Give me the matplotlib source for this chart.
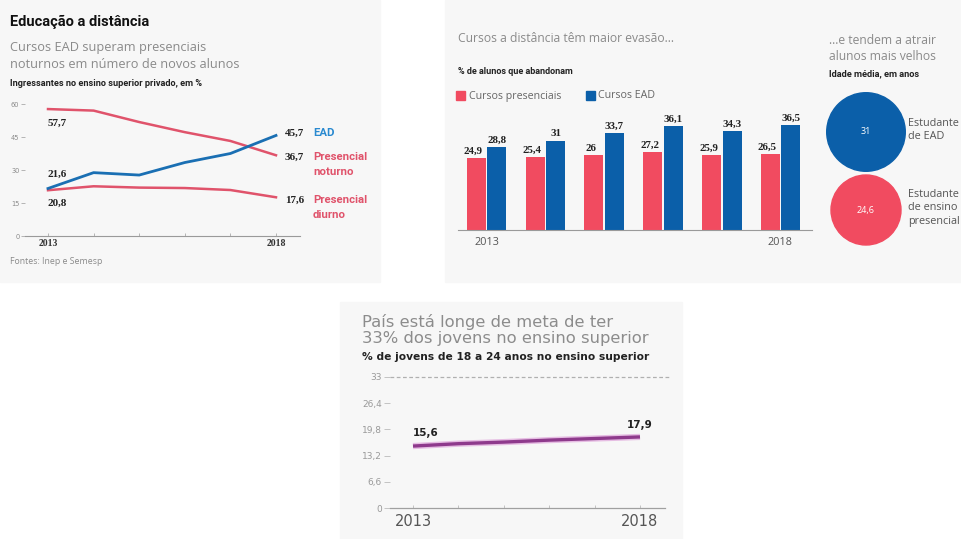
import matplotlib
matplotlib.use("Agg")
import matplotlib.pyplot as plt
from matplotlib.patches import Rectangle, Circle

W, H = 962, 539

# Ingressantes no ensino superior privado (%)
years = [2013, 2014, 2015, 2016, 2017, 2018]
ead_ingressantes = [21.6, 28.8, 27.7, 33.4, 37.5, 45.7]
noturno_ingressantes = [57.7, 57.0, 51.8, 47.2, 43.2, 36.7]
diurno_ingressantes = [20.8, 22.6, 22.0, 21.8, 20.9, 17.6]

# Evasão (% de alunos que abandonam)
evasao_presencial = [24.9, 25.4, 26.0, 27.2, 25.9, 26.5]
evasao_ead = [28.8, 31.0, 33.7, 36.1, 34.3, 36.5]

# Idade média (anos)
idade_labels = ["Estudante\nde EAD", "Estudante\nde ensino\npresencial"]
idade_values = [31, 24.6]

# Jovens de 18 a 24 anos no ensino superior (%)
jovens_pct = [15.6, 16.2, 16.6, 17.1, 17.5, 17.9]
meta_pct = 33

RED = "#e0536b"
RED2 = "#f14b60"
BLUE = "#1a6fb3"
BLUE2 = "#0b5fa9"
PURPLE = "#8e3a8c"
GRAY = "#8a8a8a"
DARK = "#222222"
PANEL = "#f7f7f7"

fig = plt.figure(figsize=(W / 100, H / 100), dpi=100, facecolor="white")


def rect(x0, y0, x1, y1):
    """pixel box (top-left origin) -> figure fraction rect"""
    return [x0 / W, 1 - y1 / H, (x1 - x0) / W, (y1 - y0) / H]


def txt(x, y, s, **kw):
    kw.setdefault("va", "center")
    kw.setdefault("ha", "left")
    return fig.text(x / W, 1 - y / H, s, **kw)


def box(x0, y0, x1, y1, color, z):
    fig.patches.append(Rectangle((x0 / W, 1 - y1 / H), (x1 - x0) / W, (y1 - y0) / H,
                                 transform=fig.transFigure, color=color, zorder=z))


def fmt(v):
    return f"{v:g}".replace(".", ",")


# panel backgrounds
for b in [(0, 0, 380, 282), (445, 0, 962, 282), (340, 302, 682, 539)]:
    box(*b, PANEL, -5)

num_font = dict(family="Liberation Serif", fontweight="bold", color=DARK)

# ---------- panel 1: ingressantes ----------
txt(10, 22, "Educação a distância", fontsize=10.5, fontweight="bold", family="Roboto", color="#111")
txt(10, 48, "Cursos EAD superam presenciais", fontsize=9.2, family="Open Sans", color=GRAY)
txt(10, 64, "noturnos em número de novos alunos", fontsize=9.2, family="Open Sans", color=GRAY)
txt(10, 83, "Ingressantes no ensino superior privado, em %", fontsize=6.6,
    fontweight="bold", family="Roboto", color=DARK)

ax1 = fig.add_axes(rect(25, 100, 300, 236))
ax1.set_xlim(2013 - 23 / 45.6, 2018 + 24 / 45.6)
ax1.set_ylim(0, 136 / 2.2)
ax1.set_facecolor("none")
ax1.plot(years, noturno_ingressantes, color=RED, lw=1.8, clip_on=False)
ax1.plot(years, diurno_ingressantes, color=RED, lw=1.8, clip_on=False)
ax1.plot(years, ead_ingressantes, color=BLUE, lw=2.0, clip_on=False)
for s in ["top", "right", "left"]:
    ax1.spines[s].set_visible(False)
ax1.spines["bottom"].set_color("#9a9a9a")
ax1.spines["bottom"].set_linewidth(0.8)
ax1.set_yticks([0, 15, 30, 45, 60])
ax1.set_yticklabels(["0", "15", "30", "45", "60"], fontsize=4.8, color=GRAY)
ax1.tick_params(axis="y", length=3, width=0.6, color="#aaaaaa", pad=1)
ax1.set_xticks(years)
ax1.set_xticklabels(["2013", "", "", "", "", "2018"], fontsize=7,
                    family="Liberation Serif", fontweight="bold", color="#333")
ax1.tick_params(axis="x", direction="in", length=2, width=0.6, color="#aaaaaa", pad=2)

ax1.text(2013, noturno_ingressantes[0] - 6.5, fmt(noturno_ingressantes[0]), fontsize=8,
         ha="left", va="center", **num_font)
ax1.text(2013, ead_ingressantes[0] + 6.5, fmt(ead_ingressantes[0]), fontsize=8,
         ha="left", va="center", **num_font)
ax1.text(2013, diurno_ingressantes[0] - 6.0, fmt(diurno_ingressantes[0]), fontsize=8,
         ha="left", va="center", **num_font)

lab_font = dict(fontsize=8.2, fontweight="bold", family="Roboto")
txt(285, 133, fmt(ead_ingressantes[-1]), fontsize=8, **num_font)
txt(313, 133, "EAD", color="#2a8ad0", **lab_font)
txt(285, 157, fmt(noturno_ingressantes[-1]), fontsize=8, **num_font)
txt(313, 157, "Presencial", color=RED, **lab_font)
txt(313, 172, "noturno", color=RED, **lab_font)
txt(285, 200, fmt(diurno_ingressantes[-1]), fontsize=8, **num_font)
txt(313, 200, "Presencial", color=RED, **lab_font)
txt(313, 215, "diurno", color=RED, **lab_font)
txt(10, 261, "Fontes: Inep e Semesp", fontsize=6.3, family="Open Sans", color=GRAY)

# ---------- panel 2: evasão ----------
txt(458, 38, "Cursos a distância têm maior evasão...", fontsize=8.7, family="Open Sans", color=GRAY)
txt(458, 72, "% de alunos que abandonam", fontsize=6.5, fontweight="bold", family="Roboto", color=DARK)
box(456, 91, 465, 100, RED2, 1)
txt(469, 96, "Cursos presenciais", fontsize=7.7, family="Open Sans", color="#666")
box(586, 91, 595, 100, BLUE2, 1)
txt(598, 96, "Cursos EAD", fontsize=7.7, family="Open Sans", color="#666")

ax2 = fig.add_axes(rect(458, 100, 812, 230))
gx = list(range(len(evasao_ead)))
bw = 19 / 58.8
off = 10.3 / 58.8
ax2.bar([g - off for g in gx], evasao_presencial, width=bw, color=RED2)
ax2.bar([g + off for g in gx], evasao_ead, width=bw, color=BLUE2)
ax2.set_xlim(-28.5 / 58.8, 325.5 / 58.8)
ax2.set_ylim(0, 130 / 2.88)
ax2.set_facecolor("none")
for s in ["top", "right", "left"]:
    ax2.spines[s].set_visible(False)
ax2.spines["bottom"].set_color("#9a9a9a")
ax2.spines["bottom"].set_linewidth(0.8)
ax2.set_yticks([])
ax2.set_xticks([0, 5])
ax2.set_xticklabels(["2013", "2018"], fontsize=7.8, family="Open Sans", color="#555")
ax2.tick_params(axis="x", length=0, pad=5)

for g, a, b in zip(gx, evasao_presencial, evasao_ead):
    ax2.text(g - off - 0.05, a + 0.8, fmt(a), fontsize=7.8, ha="center", va="bottom", **num_font)
    ax2.text(g + off, b + 0.8, fmt(b), fontsize=7.8, ha="center", va="bottom", **num_font)

# idade média
txt(829, 40, "...e tendem a atrair", fontsize=8.7, family="Open Sans", color=GRAY)
txt(829, 57, "alunos mais velhos", fontsize=8.7, family="Open Sans", color=GRAY)
txt(829, 74, "Idade média, em anos", fontsize=6.7, fontweight="bold", family="Roboto", color=DARK)

ax3 = fig.add_axes(rect(820, 85, 962, 255))
ax3.set_xlim(820, 962)
ax3.set_ylim(255, 85)
ax3.set_aspect("equal")
ax3.axis("off")
r_base = 35
centers = [132, 210]
colors = [BLUE2, RED2]
for cy, v, lab, c in zip(centers, idade_values, idade_labels, colors):
    r = r_base * (v / idade_values[1]) ** 0.5
    ax3.add_patch(Circle((866, cy), r, color=c))
    ax3.text(866, cy, fmt(v), fontsize=6.5, color="white", ha="center", va="center", family="Open Sans")
    ax3.text(908, cy - 2, lab, fontsize=7.8, color="#555", ha="left", va="center",
             family="Open Sans", linespacing=1.35, clip_on=False)

# ---------- panel 3: jovens no ensino superior ----------
txt(362, 322, "País está longe de meta de ter", fontsize=11.8, family="DejaVu Sans", color="#8c8c8c")
txt(362, 339, "33% dos jovens no ensino superior", fontsize=11.8, family="DejaVu Sans", color="#8c8c8c")
txt(362, 357, "% de jovens de 18 a 24 anos no ensino superior", fontsize=7.7,
    fontweight="bold", family="DejaVu Sans", color=DARK)

ax4 = fig.add_axes(rect(390, 370, 665, 508))
ax4.set_xlim(2013 - 23 / 45.4, 2018 + 25 / 45.4)
ax4.set_ylim(0, 138 / 3.97)
ax4.set_facecolor("none")
ax4.axhline(meta_pct, color="#b0b0b0", lw=0.9, ls=(0, (3, 2)), xmin=0, xmax=1.02, clip_on=False)
ax4.plot(years, jovens_pct, color="#e6bde3", lw=4.5, solid_capstyle="butt")
ax4.plot(years, jovens_pct, color=PURPLE, lw=2.4, solid_capstyle="butt")
for s in ["top", "right", "left"]:
    ax4.spines[s].set_visible(False)
ax4.spines["bottom"].set_color("#a0a0a0")
ax4.spines["bottom"].set_linewidth(0.9)
yt = [0, 6.6, 13.2, 19.8, 26.4, 33]
ax4.set_yticks(yt)
ax4.set_yticklabels([fmt(v) for v in yt], fontsize=6.5, color="#999")
ax4.tick_params(axis="y", length=4, width=0.6, color="#bbbbbb", pad=2)
ax4.set_xticks(years)
ax4.set_xticklabels(["2013", "", "", "", "", "2018"], fontsize=10.5,
                    family="DejaVu Sans", color="#555")
ax4.tick_params(axis="x", direction="in", length=2, width=0.6, color="#bbbbbb", pad=4)
ax4.text(2013, jovens_pct[0] + 3.3, fmt(jovens_pct[0]), fontsize=7.5, ha="left", va="center",
         family="DejaVu Sans", fontweight="bold", color=DARK)
ax4.text(2018, jovens_pct[-1] + 3.0, fmt(jovens_pct[-1]), fontsize=7.5, ha="center", va="center",
         family="DejaVu Sans", fontweight="bold", color=DARK)

fig.savefig("out.png", dpi=100, facecolor="white")
